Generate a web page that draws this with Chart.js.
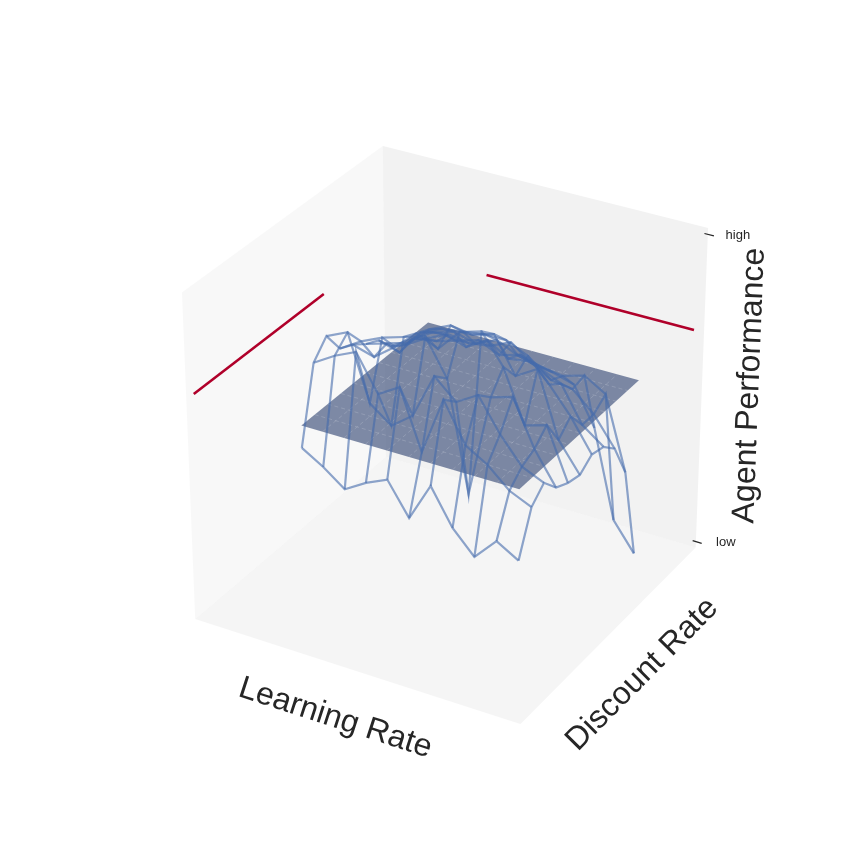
<!DOCTYPE html>
<html>
<head>
<meta charset="utf-8">
<title>Agent performance surface</title>
<script src="https://cdn.jsdelivr.net/npm/chart.js@4.4.1/dist/chart.umd.min.js"></script>
<style>
  html, body { margin: 0; padding: 0; background: #ffffff; }
  #wrap { width: 860px; height: 860px; }
</style>
</head>
<body>
<div id="wrap"><canvas id="surface" width="860" height="860"></canvas></div>
<script>
// sweep grid (axis units, ticks hidden on these two axes)
const learningRate = [0.330, 0.394, 0.458, 0.522, 0.586, 0.650, 0.714, 0.778, 0.842, 0.906, 0.970];
const discountRate = [0.035, 0.100, 0.164, 0.229, 0.293, 0.358, 0.422, 0.487, 0.551, 0.616, 0.680];

// performance[j][i] -> discountRate[j], learningRate[i]
const performance = [
    [0.62, 0.58, 0.53, 0.57, 0.60, 0.50, 0.62, 0.51, 0.44, 0.51, 0.47],
    [0.85, 0.89, 0.92, 0.81, 0.85, 0.67, 0.85, 0.73, 0.69, 0.63, 0.60],
    [0.90, 0.93, 0.73, 0.68, 0.73, 0.87, 0.81, 0.85, 0.75, 0.67, 0.64],
    [0.83, 0.87, 0.90, 0.92, 0.94, 0.83, 0.49, 0.81, 0.83, 0.69, 0.59],
    [0.81, 0.79, 0.84, 0.90, 0.87, 0.94, 0.96, 0.87, 0.71, 0.73, 0.57],
    [0.78, 0.80, 0.82, 0.88, 0.91, 0.90, 0.92, 0.81, 0.85, 0.65, 0.56],
    [0.76, 0.74, 0.82, 0.85, 0.86, 0.87, 0.87, 0.84, 0.77, 0.69, 0.59],
    [0.71, 0.75, 0.79, 0.81, 0.79, 0.82, 0.79, 0.77, 0.74, 0.63, 0.58],
    [0.68, 0.72, 0.75, 0.73, 0.77, 0.73, 0.74, 0.70, 0.69, 0.63, 0.54],
    [0.67, 0.68, 0.70, 0.72, 0.69, 0.71, 0.69, 0.68, 0.70, 0.66, 0.43],
    [0.66, 0.67, 0.66, 0.67, 0.70, 0.65, 0.64, 0.62, 0.50, 0.22, 0.13]
];

// flat reference level drawn as a plane, and its trace on the two back walls
const planeLevel = 0.69;

const zTicks = [0, 1];
const zTickLabels = ['low', 'high'];

const xLim = [0, 1];
const yLim = [0, 1];
const zLim = [-0.02, 1.02];

// camera, same as the default 3d view (elev 30, azim -60, dist 10)
const elev = 30 * Math.PI / 180;
const azim = -60 * Math.PI / 180;
const dist = 10;

const W = [Math.cos(elev) * Math.cos(azim), Math.cos(elev) * Math.sin(azim), Math.sin(elev)];
const eye = [0.5 + dist * W[0], 0.5 + dist * W[1], 0.5 + dist * W[2]];
const U = (() => {
    const c = [-W[1], W[0], 0];
    const n = Math.hypot(c[0], c[1]);
    return [c[0] / n, c[1] / n, 0];
})();
const V = [
    W[1] * U[2] - W[2] * U[1],
    W[2] * U[0] - W[0] * U[2],
    W[0] * U[1] - W[1] * U[0]
];

function dot(a, b) { return a[0] * b[0] + a[1] * b[1] + a[2] * b[2]; }

function project(x, y, z) {
    const p = [
        (x - xLim[0]) / (xLim[1] - xLim[0]),
        (y - yLim[0]) / (yLim[1] - yLim[0]),
        (z - zLim[0]) / (zLim[1] - zLim[0])
    ];
    const d = [p[0] - eye[0], p[1] - eye[1], p[2] - eye[2]];
    const depth = -dot(d, W);
    return { x: dot(d, U) / depth, y: dot(d, V) / depth };
}

// wireframe lines
const wireColor = 'rgba(68,106,172,0.6)';
const datasets = [];

performance.forEach((row, j) => {
    datasets.push({
        data: row.map((z, i) => project(learningRate[i], discountRate[j], z)),
        borderColor: wireColor
    });
});
learningRate.forEach((lr, i) => {
    datasets.push({
        data: performance.map((row, j) => project(lr, discountRate[j], row[i])),
        borderColor: wireColor
    });
});

// plane traces on the walls
const lrMin = Math.min(...learningRate), lrMax = Math.max(...learningRate);
const drMin = Math.min(...discountRate), drMax = Math.max(...discountRate);
datasets.push({
    data: [project(xLim[0], drMin, planeLevel), project(xLim[0], drMax, planeLevel)],
    borderColor: '#b0002a', borderWidth: 2.6
});
datasets.push({
    data: [project(lrMin, yLim[1], planeLevel), project(lrMax, yLim[1], planeLevel)],
    borderColor: '#b0002a', borderWidth: 2.6
});

datasets.forEach(ds => {
    ds.showLine = true;
    ds.pointRadius = 0;
    ds.fill = false;
    ds.tension = 0;
    ds.clip = false;
    if (!ds.borderWidth) ds.borderWidth = 2.2;
});

function toPx(chart, p) {
    return [chart.scales.x.getPixelForValue(p.x), chart.scales.y.getPixelForValue(p.y)];
}

function polygon(chart, pts, fill) {
    const ctx = chart.ctx;
    ctx.beginPath();
    pts.forEach((p, k) => {
        const [px, py] = toPx(chart, p);
        if (k === 0) ctx.moveTo(px, py); else ctx.lineTo(px, py);
    });
    ctx.closePath();
    ctx.fillStyle = fill;
    ctx.fill();
}

// panes and the plane go under the wireframe
const backdrop = {
    id: 'backdrop',
    beforeDatasetsDraw(chart) {
        const ctx = chart.ctx;
        const [x0, x1] = xLim, [y0, y1] = yLim, [z0, z1] = zLim;
        ctx.save();
        // floor
        polygon(chart, [project(x0, y0, z0), project(x1, y0, z0), project(x1, y1, z0), project(x0, y1, z0)], 'rgba(236,236,236,0.5)');
        // left wall
        polygon(chart, [project(x0, y0, z0), project(x0, y1, z0), project(x0, y1, z1), project(x0, y0, z1)], 'rgba(242,242,242,0.5)');
        // back wall
        polygon(chart, [project(x0, y1, z0), project(x1, y1, z0), project(x1, y1, z1), project(x0, y1, z1)], 'rgba(230,230,230,0.5)');

        polygon(chart, [
            project(lrMin, drMin, planeLevel), project(lrMax, drMin, planeLevel),
            project(lrMax, drMax, planeLevel), project(lrMin, drMax, planeLevel)
        ], 'rgba(50,70,115,0.62)');
        // faint seams between the plane facets
        ctx.strokeStyle = 'rgba(255,255,255,0.16)';
        ctx.lineWidth = 1;
        ctx.setLineDash([4, 3]);
        const seam = (a, b) => {
            const [ax, ay] = toPx(chart, a), [bx, by] = toPx(chart, b);
            ctx.beginPath(); ctx.moveTo(ax, ay); ctx.lineTo(bx, by); ctx.stroke();
        };
        learningRate.slice(1, -1).forEach(lr => seam(project(lr, drMin, planeLevel), project(lr, drMax, planeLevel)));
        discountRate.slice(1, -1).forEach(dr => seam(project(lrMin, dr, planeLevel), project(lrMax, dr, planeLevel)));
        ctx.restore();
    }
};

function label(ctx, text, x, y, angle, font) {
    ctx.save();
    ctx.translate(x, y);
    ctx.rotate(angle);
    ctx.font = font;
    ctx.fillText(text, 0, 0);
    ctx.restore();
}

const axisText = {
    id: 'axisText',
    afterDraw(chart) {
        const ctx = chart.ctx;
        const [x0, x1] = xLim, [y0, y1] = yLim, [z0, z1] = zLim;
        const big = "32px 'Liberation Sans', Arial, sans-serif";
        const small = "13px 'Liberation Sans', Arial, sans-serif";
        ctx.save();
        ctx.fillStyle = '#262626';
        ctx.textAlign = 'center';
        ctx.textBaseline = 'middle';

        // x axis: front left edge
        let a = toPx(chart, project(x0, y0, z0)), b = toPx(chart, project(x1, y0, z0));
        let m = toPx(chart, project((x0 + x1) / 2, y0, z0));
        label(ctx, 'Learning Rate', m[0] - 19, m[1] + 48, Math.atan2(b[1] - a[1], b[0] - a[0]), big);

        // y axis: front right edge
        a = toPx(chart, project(x1, y0, z0)); b = toPx(chart, project(x1, y1, z0));
        m = toPx(chart, project(x1, (y0 + y1) / 2, z0));
        label(ctx, 'Discount Rate', m[0] + 31, m[1] + 42, Math.atan2(b[1] - a[1], b[0] - a[0]), big);

        // z axis: right vertical edge
        a = toPx(chart, project(x1, y1, z0)); b = toPx(chart, project(x1, y1, z1));
        m = toPx(chart, project(x1, y1, (z0 + z1) / 2));
        label(ctx, 'Agent Performance', m[0] + 48, m[1] - 6, Math.atan2(b[1] - a[1], b[0] - a[0]), big);

        // z ticks
        ctx.strokeStyle = '#262626';
        ctx.lineWidth = 1.2;
        zTicks.forEach((t, k) => {
            const p = toPx(chart, project(x1 - 0.01, y1, t));
            const q = toPx(chart, project(x1 + 0.018, y1, t));
            ctx.beginPath(); ctx.moveTo(p[0], p[1]); ctx.lineTo(q[0], q[1]); ctx.stroke();
            const c = toPx(chart, project(x1, y1, t));
            ctx.font = small;
            ctx.fillText(zTickLabels[k], c[0] + 30, c[1] + 1);
        });
        ctx.restore();
    }
};

new Chart(document.getElementById('surface'), {
    type: 'scatter',
    data: { datasets },
    options: {
        responsive: false,
        animation: false,
        layout: { padding: 0 },
        plugins: { legend: { display: false }, tooltip: { enabled: false } },
        scales: {
            x: { type: 'linear', display: false, bounds: 'data', min: -0.119686, max: 0.109403 },
            y: { type: 'linear', display: false, bounds: 'data', min: -0.116662, max: 0.114086 }
        }
    },
    plugins: [backdrop, axisText]
});
</script>
</body>
</html>
